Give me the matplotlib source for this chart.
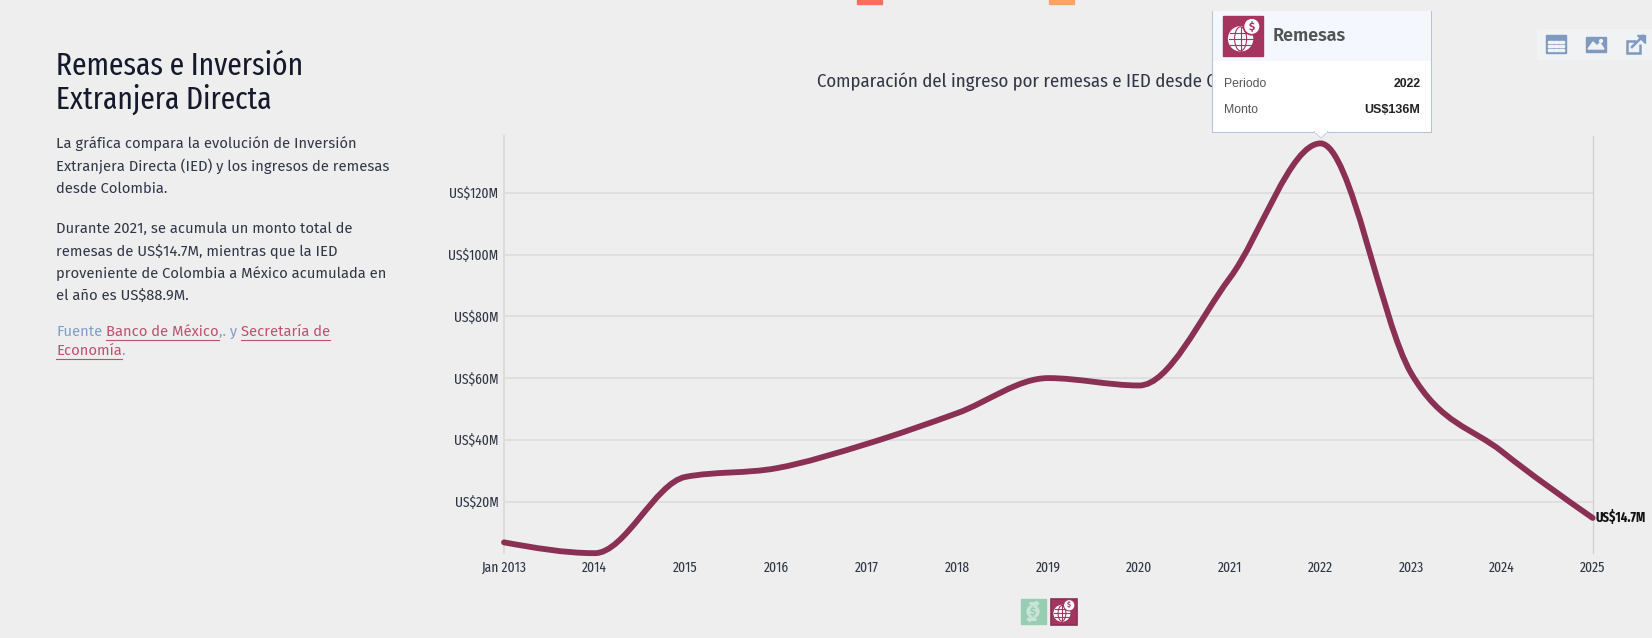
import matplotlib
matplotlib.use("Agg")
import matplotlib.pyplot as plt
import numpy as np
from matplotlib import font_manager
from matplotlib.patches import Rectangle, Circle, Ellipse, PathPatch, Polygon, FancyArrow
from matplotlib.path import Path

W, H = 1652, 638

# Data
years = [2013, 2014, 2015, 2016, 2017, 2018, 2019, 2020, 2021, 2022, 2023, 2024, 2025]
remesas = [6.8, 3.3, 28.0, 30.8, 38.7, 48.7, 60.0, 57.6, 92.4, 136.0, 61.5, 36.2, 14.7]
x_labels = ["Jan 2013"] + [str(y) for y in years[1:]]
y_ticks = [20, 40, 60, 80, 100, 120]
y_labels = ["US$%dM" % v for v in y_ticks]

BG = "#eeeeee"
LINE = "#8b3055"
CRIMSON = "#a5355f"
TEXT = "#2f3747"
LINK = "#c0506f"
ICON = "#7f9abf"
BAR = "#f0f2f4"

names = sorted(set(f.name for f in font_manager.fontManager.ttflist))
NARROW = "Fira Sans Condensed"
TIGHT = "Fira Sans Extra Condensed"
BODY = "Fira Sans" if "Fira Sans" in names else "Lato"

fig = plt.figure(figsize=(W / 100, H / 100), dpi=100, facecolor=BG)

# Overlay in pixel coordinates for the page parts
page = fig.add_axes([0, 0, 1, 1], zorder=1)
page.set_xlim(0, W)
page.set_ylim(H, 0)
page.axis("off")

# Chart axes
left, right, top, bottom = 504, 1592.7, 136, 553.3
ax = fig.add_axes([left / W, 1 - bottom / H, (right - left) / W, (bottom - top) / H], zorder=2)
ax.patch.set_alpha(0)
ax.set_xlim(2013, 2025)
ax.set_ylim(3.26, 138.4)
ax.set_xticks(years)
ax.set_xticklabels(x_labels, fontfamily=TIGHT, fontsize=10.6, color=TEXT)
ax.set_yticks(y_ticks)
ax.set_yticklabels(y_labels, fontfamily=TIGHT, fontsize=10.6, color=TEXT)
ax.tick_params(axis="both", length=0)
ax.tick_params(axis="x", pad=5)
ax.tick_params(axis="y", pad=4)
ax.grid(axis="y", color="#dcdcdc", linewidth=1.2)
ax.set_axisbelow(True)
for s in ["top", "bottom"]:
    ax.spines[s].set_visible(False)
ax.spines["left"].set_color("#dcdcdc")
ax.spines["left"].set_linewidth(1.4)
ax.spines["right"].set_color("#cfcfcf")
ax.spines["right"].set_linewidth(0.9)


# Same smoothing the site uses (monotone cubic), as bezier segments
def monotone_path(xs, ys):
    xs = np.array(xs, dtype=float)
    ys = np.array(ys, dtype=float)
    s = np.diff(ys) / np.diff(xs)
    t = np.zeros(len(xs))
    for i in range(1, len(xs) - 1):
        p = (s[i - 1] + s[i]) / 2
        t[i] = (np.sign(s[i - 1]) + np.sign(s[i])) * min(abs(s[i - 1]), abs(s[i]), 0.5 * abs(p))
    t[0] = (3 * s[0] - t[1]) / 2
    t[-1] = (3 * s[-1] - t[-2]) / 2
    verts = [(xs[0], ys[0])]
    codes = [Path.MOVETO]
    for i in range(len(xs) - 1):
        h = (xs[i + 1] - xs[i]) / 3
        verts += [(xs[i] + h, ys[i] + h * t[i]), (xs[i + 1] - h, ys[i + 1] - h * t[i + 1]), (xs[i + 1], ys[i + 1])]
        codes += [Path.CURVE4] * 3
    return Path(verts, codes)


ax.add_patch(PathPatch(monotone_path(years, remesas), fill=False, edgecolor=LINE, linewidth=4.2,
                       capstyle="round", clip_on=False, zorder=3))
ax.annotate("US$14.7M", (years[-1], remesas[-1]), xytext=(2, 0), textcoords="offset points",
            va="center", fontfamily=TIGHT, fontsize=10, fontweight="bold", color="#111111",
            annotation_clip=False)

# Chart title, tooltip goes over it
page.text(1048, 81.5, "Comparación del ingreso por remesas e IED desde Colombia", ha="center", va="center",
          fontfamily=NARROW, fontsize=13.5, color=TEXT, zorder=2)

# Left column
page.text(56, 66, "Remesas e Inversión", va="center", fontfamily=TIGHT, fontsize=23, color="#14192b")
page.text(56, 99, "Extranjera Directa", va="center", fontfamily=TIGHT, fontsize=23, color="#14192b")
body_lines = [
    (143.5, "La gráfica compara la evolución de Inversión"),
    (166.5, "Extranjera Directa (IED) y los ingresos de remesas"),
    (189, "desde Colombia."),
    (229, "Durante 2021, se acumula un monto total de"),
    (251, "remesas de US$14.7M, mientras que la IED"),
    (273.5, "proveniente de Colombia a México acumulada en"),
    (296, "el año es US$88.9M."),
]
for y, line in body_lines:
    page.text(56, y, line, va="center", fontfamily=BODY, fontsize=10.65, color=TEXT)


def run(x, y, s, color, underline=False):
    t = page.text(x, y, s, va="center", fontfamily=BODY, fontsize=10.65, color=color)
    box = t.get_window_extent(fig.canvas.get_renderer())
    if underline:
        page.plot([box.x0, box.x1], [y + 8, y + 8], color=color, linewidth=0.8)
    return box.x1


x = run(56, 331.5, "Fuente", "#7f9fc4")
x = run(x + 4, 331.5, "Banco de México", LINK, True)
x = run(x, 331.5, ",. y", "#7f9fc4")
run(x + 4, 331.5, "Secretaría de", LINK, True)
x = run(56, 350.5, "Economía", LINK, True)
run(x, 350.5, ".", "#7f9fc4")


# Icons
def globe(cx, cy, size, color):
    r = size * 0.3
    gx, gy = cx - size * 0.06, cy + size * 0.07
    page.add_patch(Circle((gx, gy), r, color="white", zorder=6))
    page.add_patch(Ellipse((gx, gy), r, 2 * r, fill=False, edgecolor=color, linewidth=0.8, zorder=7))
    page.plot([gx, gx], [gy - r, gy + r], color=color, linewidth=0.8, zorder=7)
    page.plot([gx - r, gx + r], [gy, gy], color=color, linewidth=0.8, zorder=7)
    for d in (-0.5, 0.5):
        w = r * 0.866
        page.plot([gx - w, gx + w], [gy + d * r, gy + d * r], color=color, linewidth=0.8, zorder=7)
    c = size * 0.17
    coin = (cx + size * 0.22, cy - size * 0.24)
    page.add_patch(Circle(coin, c * 1.25, color=color, zorder=8))
    page.add_patch(Circle(coin, c, color="white", zorder=9))
    page.text(coin[0], coin[1], "$", ha="center", va="center", fontsize=size * 0.2, fontweight="bold",
              color=color, fontfamily=BODY, zorder=10)


# Top squares cut by the page edge
page.add_patch(Rectangle((857, 0), 25, 4, color="#ff6e5c"))
page.add_patch(Rectangle((1049, 0), 25, 4, color="#ffa266"))

# Legend under the chart
page.add_patch(Rectangle((1020.7, 599), 25, 25, color="#98cdb4"))
page.add_patch(Circle((1033, 611.5), 6, color="#c9e4d6", zorder=5))
page.text(1033, 611.5, "$", ha="center", va="center", fontfamily=BODY, fontsize=8, fontweight="bold",
          color="#98cdb4", zorder=6)
page.add_patch(FancyArrow(1030, 603.5, 9, 0, width=1.6, head_width=4.5, head_length=3, color="#c9e4d6",
                          length_includes_head=True, zorder=6))
page.add_patch(FancyArrow(1036, 619.5, -9, 0, width=1.6, head_width=4.5, head_length=3, color="#c9e4d6",
                          length_includes_head=True, zorder=6))
page.add_patch(Rectangle((1050.5, 598.5), 26, 26, facecolor=CRIMSON, edgecolor="#8a2f55", linewidth=1.2))
globe(1063.5, 611.5, 26, CRIMSON)

# Toolbar top right
page.add_patch(Rectangle((1537, 29), 115, 30, color=BAR, zorder=1))
page.add_patch(Rectangle((1546, 35), 20, 18, color=ICON, zorder=3))
for yy in (40.5, 44.5, 48.5):
    for xx in (1548, 1553.6, 1559.2):
        page.add_patch(Rectangle((xx, yy), 4.8, 2.8, color=BAR, zorder=4))
page.add_patch(Rectangle((1586, 37), 20, 15, color=ICON, zorder=3))
page.add_patch(Polygon([(1588, 49), (1593, 42), (1597, 46), (1600, 43), (1604, 49)], color=BAR, zorder=4))
page.add_patch(Circle((1601, 41), 1.4, color=BAR, zorder=4))
page.add_patch(Polygon([(1636, 41), (1627, 41), (1627, 53), (1640, 53), (1640, 44)], closed=False, fill=False,
                       edgecolor=ICON, linewidth=1.8, zorder=3))
page.plot([1632, 1643], [47, 36], color=ICON, linewidth=1.8, zorder=3)
page.add_patch(Polygon([(1637, 34.5), (1645, 34.5), (1645, 42.5)], color=ICON, zorder=3))

# Tooltip
page.add_patch(Rectangle((1212, 10.5), 219, 121.5, facecolor="white", edgecolor="#b3c3da", linewidth=0.75, zorder=4))
page.add_patch(Rectangle((1212.6, 11), 218, 50, facecolor="#f4f8fe", edgecolor="none", zorder=4))
page.add_patch(Polygon([(1314, 131.5), (1321, 138), (1328, 131.5)], facecolor="white", edgecolor="#c5d1e2",
                       linewidth=0.75, zorder=4))
page.add_patch(Rectangle((1314.8, 130.5), 12.4, 2, facecolor="white", edgecolor="none", zorder=5))
page.add_patch(Rectangle((1223, 16), 40, 40, color=CRIMSON, zorder=5))
globe(1243, 36, 40, CRIMSON)
page.text(1273, 36, "Remesas", va="center", fontfamily=BODY, fontsize=13, fontweight="semibold", color="#555555", zorder=6)
page.text(1224, 84, "Periodo", va="center", fontfamily="Liberation Sans", fontsize=8.8, color="#555555", zorder=6)
page.text(1224, 110, "Monto", va="center", fontfamily="Liberation Sans", fontsize=8.8, color="#555555", zorder=6)
page.text(1420.5, 84, "2022", ha="right", va="center", fontfamily="Liberation Sans", fontsize=8.8, fontweight="bold", color="#222222", zorder=6)
page.text(1420.5, 110, "US$136M", ha="right", va="center", fontfamily="Liberation Sans", fontsize=9, fontweight="bold", color="#222222", zorder=6)

fig.savefig("out.png", dpi=100, facecolor=BG)
